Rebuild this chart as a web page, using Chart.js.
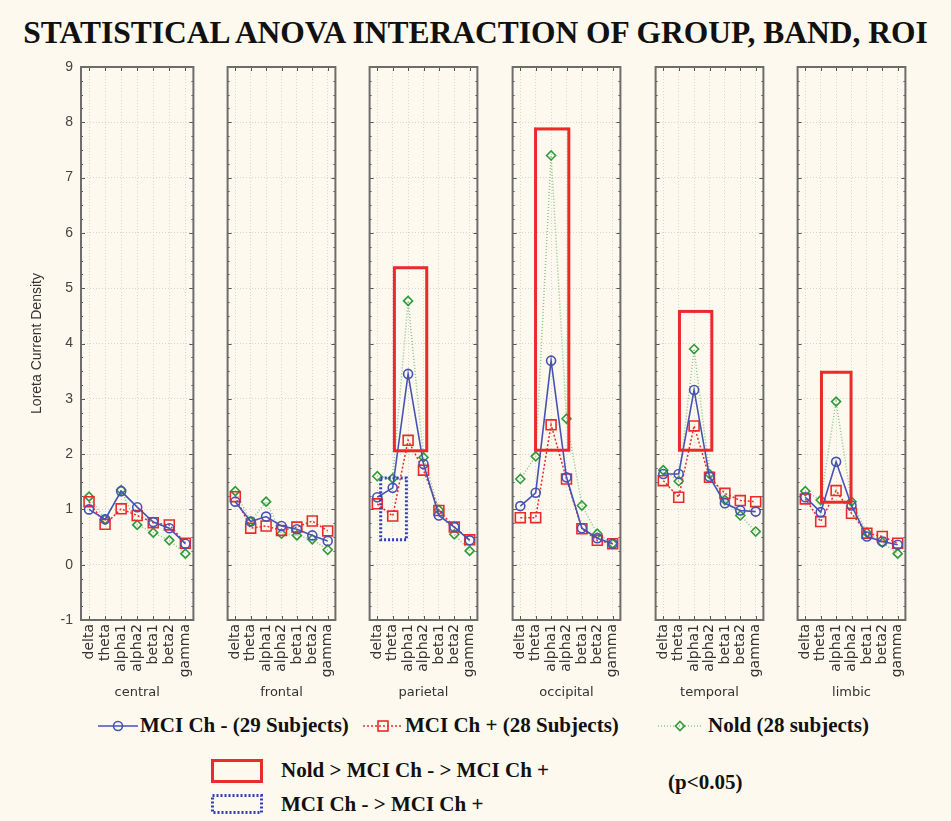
<!DOCTYPE html>
<html>
<head>
<meta charset="utf-8">
<script src="https://cdn.jsdelivr.net/npm/chart.js@4.4.1/dist/chart.umd.min.js"></script>
<style>
  body { margin: 0; background: #fdf9ee; }
  #wrap { position: relative; width: 951px; height: 821px; background: #fdf9ee; overflow: hidden; }
  #wrap canvas { position: absolute; }
  .title { position: absolute; left: 0; width: 951px; top: 15px; text-align: center;
           font: bold 31.5px "Liberation Serif", serif; color: #111; white-space: nowrap; }
  .lg { position: absolute; font: bold 21px "Liberation Serif", serif; color: #111; white-space: nowrap; }
  .lg svg { position: absolute; }
</style>
</head>
<body>
<div id="wrap">
  <div class="title">STATISTICAL ANOVA INTERACTION OF GROUP, BAND, ROI</div>
</div>
<script>
// bands on each panel's x axis, one panel per region
const bands = ['delta', 'theta', 'alpha1', 'alpha2', 'beta1', 'beta2', 'gamma'];
const regions = ['central', 'frontal', 'parietal', 'occipital', 'temporal', 'limbic'];
const yTicks = [-1, 0, 1, 2, 3, 4, 5, 6, 7, 8, 9];

// Loreta current density, one row per region
const mciMinus = [
  [1.00, 0.82, 1.33, 1.04, 0.77, 0.66, 0.38],
  [1.14, 0.78, 0.87, 0.70, 0.64, 0.53, 0.43],
  [1.22, 1.39, 3.45, 1.82, 0.89, 0.68, 0.44],
  [1.06, 1.30, 3.69, 1.58, 0.66, 0.48, 0.38],
  [1.64, 1.64, 3.16, 1.59, 1.11, 0.98, 0.96],
  [1.22, 0.95, 1.86, 1.07, 0.51, 0.42, 0.36]
];
const mciPlus = [
  [1.14, 0.73, 1.01, 0.89, 0.76, 0.72, 0.39],
  [1.23, 0.66, 0.70, 0.62, 0.68, 0.79, 0.61],
  [1.10, 0.88, 2.25, 1.71, 0.98, 0.68, 0.45],
  [0.85, 0.85, 2.53, 1.55, 0.65, 0.44, 0.38],
  [1.52, 1.22, 2.51, 1.58, 1.29, 1.16, 1.14],
  [1.19, 0.78, 1.34, 0.93, 0.57, 0.51, 0.39]
];
const nold = [
  [1.23, 0.82, 1.35, 0.72, 0.58, 0.44, 0.20],
  [1.33, 0.78, 1.14, 0.56, 0.53, 0.46, 0.27],
  [1.60, 1.56, 4.77, 1.94, 0.99, 0.55, 0.25],
  [1.55, 1.96, 7.40, 2.64, 1.07, 0.56, 0.38],
  [1.71, 1.51, 3.90, 1.64, 1.17, 0.89, 0.60],
  [1.33, 1.17, 2.95, 1.14, 0.58, 0.40, 0.20]
];

// significance boxes: [band index from, band index to, value low, value high]
const noldBoxes = [null, null, [1.11, 3.21, 2.06, 5.37], [0.99, 3.15, 2.07, 7.88], [1.05, 3.15, 2.07, 4.58], [1.05, 2.97, 1.13, 3.48]];
const mciBoxes = [null, null, [0.22, 1.89, 0.45, 1.57], null, null, null];

const BLUE = '#4653b4', RED = '#ec2a2a', GREEN = '#2f9b3a', GREEN_LINE = '#86c98a';
const panelLeft = [81, 223, 365, 508, 651, 793];
const panelW = 117, TOP = 57, H = 653;

const framePlugin = {
  id: 'frame',
  afterDatasetsDraw(chart, args, opts) {
    const { ctx, chartArea: a, scales: { x, y } } = chart;
    ctx.save();
    // small inward ticks
    ctx.strokeStyle = '#555';
    ctx.lineWidth = 1;
    ctx.beginPath();
    for (let v = -1; v <= 9.001; v += 0.25) {
      const py = Math.round(y.getPixelForValue(v)) + 0.5;
      const len = Math.abs(v - Math.round(v)) < 0.01 ? 4 : 2;
      ctx.moveTo(a.left, py); ctx.lineTo(a.left + len, py);
      ctx.moveTo(a.right, py); ctx.lineTo(a.right - len, py);
    }
    bands.forEach((b, i) => {
      const px = Math.round(x.getPixelForValue(i)) + 0.5;
      ctx.moveTo(px, a.top); ctx.lineTo(px, a.top + 4);
      ctx.moveTo(px, a.bottom); ctx.lineTo(px, a.bottom - 4);
    });
    ctx.stroke();
    // outer frame
    ctx.strokeStyle = '#6d6d6d';
    ctx.lineWidth = 2;
    ctx.strokeRect(a.left, a.top, a.right - a.left, a.bottom - a.top);
    // significance boxes
    const drawBox = (b, color, dash) => {
      if (!b) return;
      const x0 = x.getPixelForValue(b[0]), x1 = x.getPixelForValue(b[1]);
      const y0 = y.getPixelForValue(b[3]), y1 = y.getPixelForValue(b[2]);
      ctx.strokeStyle = color;
      ctx.lineWidth = 3;
      ctx.setLineDash(dash);
      ctx.strokeRect(x0, y0, x1 - x0, y1 - y0);
    };
    drawBox(noldBoxes[opts.panel], RED, []);
    drawBox(mciBoxes[opts.panel], '#3040b8', [2, 2]);
    ctx.restore();
  }
};

function makePanel(i) {
  const first = i === 0;
  const padL = first ? 0 : 4;
  const yW = first ? 81 : 0;
  const canvas = document.createElement('canvas');
  const width = yW + padL + panelW + 4;
  canvas.width = width;
  canvas.height = H;
  canvas.style.left = (panelLeft[i] - yW - padL) + 'px';
  canvas.style.top = TOP + 'px';
  document.getElementById('wrap').appendChild(canvas);

  new Chart(canvas.getContext('2d'), {
    type: 'line',
    data: {
      labels: bands,
      datasets: [{
        label: 'Nold (28 subjects)',
        data: nold[i],
        borderColor: GREEN_LINE,
        borderWidth: 1.5,
        borderDash: [1, 2],
        pointStyle: 'rectRot',
        pointRadius: 4.5,
        pointBorderColor: GREEN,
        pointBorderWidth: 1.6,
        pointBackgroundColor: 'rgba(0,0,0,0)',
        order: 3
      }, {
        label: 'MCI Ch + (28 Subjects)',
        data: mciPlus[i],
        borderColor: RED,
        borderWidth: 1.5,
        borderDash: [2, 2],
        pointStyle: 'rect',
        pointRadius: 7,
        pointBorderColor: RED,
        pointBorderWidth: 1.6,
        pointBackgroundColor: 'rgba(0,0,0,0)',
        order: 2
      }, {
        label: 'MCI Ch - (29 Subjects)',
        data: mciMinus[i],
        borderColor: BLUE,
        borderWidth: 1.6,
        pointStyle: 'circle',
        pointRadius: 4.5,
        pointBorderColor: BLUE,
        pointBorderWidth: 1.6,
        pointBackgroundColor: 'rgba(0,0,0,0)',
        order: 1
      }]
    },
    options: {
      responsive: false,
      animation: false,
      layout: { padding: { top: 10, bottom: 0, left: padL, right: 4 } },
      plugins: {
        legend: { display: false },
        tooltip: { enabled: false },
        frame: { panel: i }
      },
      scales: {
        x: {
          type: 'category',
          offset: true,
          grid: { color: '#d6d6d6', drawTicks: false },
          border: { display: false, dash: [1, 2] },
          ticks: {
            minRotation: 90, maxRotation: 90, autoSkip: false, padding: 4,
            color: '#333', font: { family: 'DejaVu Sans', size: 14 }
          },
          title: {
            display: true, text: regions[i], color: '#333',
            font: { family: 'DejaVu Sans', size: 13 }, padding: { top: 0, bottom: 10 }
          },
          afterFit(scale) {
            scale.height = 90;
            scale.paddingLeft = 0;
            scale.paddingRight = 0;
          }
        },
        y: {
          min: -1, max: 9,
          afterBuildTicks(scale) { scale.ticks = yTicks.map(v => ({ value: v })); },
          grid: { color: '#d6d6d6', drawTicks: false },
          border: { display: false, dash: [1, 2] },
          ticks: {
            display: first, padding: 8, color: '#444',
            font: { family: 'Liberation Sans', size: 14 }
          },
          title: {
            display: first, text: 'Loreta Current Density', color: '#333',
            font: { family: 'Liberation Sans', size: 14 }, padding: { top: 29, bottom: 0 }
          },
          afterFit(scale) {
            scale.width = yW;
            scale.paddingTop = 0;
            scale.paddingBottom = 0;
          }
        }
      }
    },
    plugins: [framePlugin]
  });
}

regions.forEach((r, i) => makePanel(i));

// legend, drawn as html text with small svg samples
const wrap = document.getElementById('wrap');
function addLegend(html, left, top) {
  const d = document.createElement('div');
  d.className = 'lg';
  d.style.left = left + 'px';
  d.style.top = top + 'px';
  d.innerHTML = html;
  wrap.appendChild(d);
}
addLegend('<svg width="40" height="14" style="left:-42px;top:6px"><line x1="0" y1="7" x2="40" y2="7" stroke="' + BLUE + '" stroke-width="1.6"/><circle cx="20" cy="7" r="4.5" fill="none" stroke="' + BLUE + '" stroke-width="1.6"/></svg>MCI Ch - (29 Subjects)', 140, 713);
addLegend('<svg width="40" height="14" style="left:-42px;top:6px"><line x1="0" y1="7" x2="40" y2="7" stroke="' + RED + '" stroke-width="1.5" stroke-dasharray="2 2"/><rect x="15" y="2" width="10" height="10" fill="none" stroke="' + RED + '" stroke-width="1.6"/></svg>MCI Ch + (28 Subjects)', 405, 713);
addLegend('<svg width="44" height="14" style="left:-50px;top:6px"><line x1="0" y1="7" x2="44" y2="7" stroke="' + GREEN_LINE + '" stroke-width="1.5" stroke-dasharray="1 2"/><path d="M22 2.5 L26.5 7 L22 11.5 L17.5 7 Z" fill="none" stroke="' + GREEN + '" stroke-width="1.6"/></svg>Nold (28 subjects)', 708, 713);
addLegend('<svg width="52" height="24" style="left:-70px;top:1px"><rect x="1.5" y="1.5" width="49" height="21" fill="none" stroke="' + RED + '" stroke-width="3"/></svg>Nold &gt; MCI Ch - &gt; MCI Ch +', 281, 758);
addLegend('(p&lt;0.05)', 668, 770);
addLegend('<svg width="52" height="20" style="left:-70px;top:2px"><rect x="1.5" y="1.5" width="49" height="17" fill="none" stroke="#3040b8" stroke-width="3" stroke-dasharray="2 2"/></svg>MCI Ch - &gt; MCI Ch +', 281, 792);
</script>
</body>
</html>
